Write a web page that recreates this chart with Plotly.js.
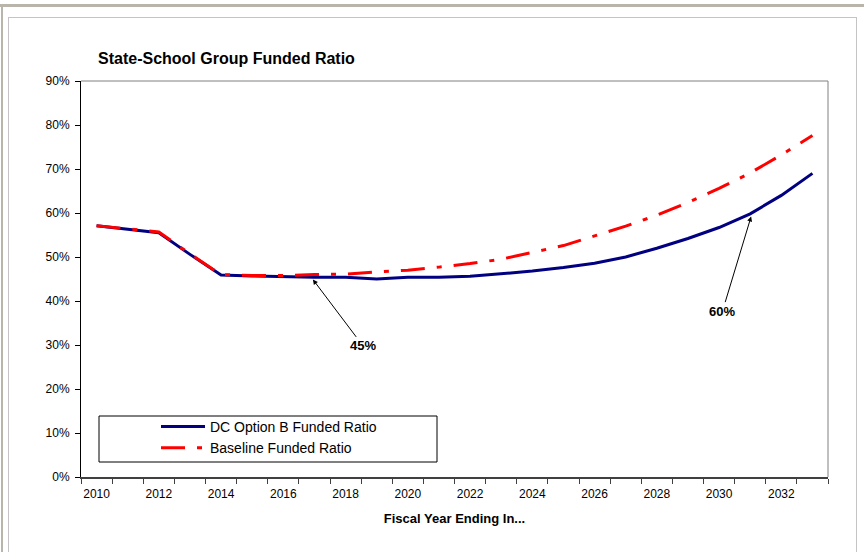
<!DOCTYPE html>
<html>
<head>
<meta charset="utf-8">
<script src="https://cdn.plot.ly/plotly-3.0.1.min.js"></script>
<style>
html, body { margin: 0; padding: 0; background: #ffffff; }
#wrap { position: relative; width: 864px; height: 552px; overflow: hidden; }
#chart { position: absolute; left: 0; top: 0; width: 864px; height: 552px; }
.f1 { position: absolute; left: 0; top: 4px; width: 864px; height: 3px; background: #b9b5aa; }
.f2 { position: absolute; left: 1px; top: 4px; width: 2px; height: 548px; background: #b9b5aa; }
.f3 { position: absolute; left: 8px; top: 17px; width: 849px; height: 540px; border: 1px solid #c4c4c4; box-sizing: border-box; }
</style>
</head>
<body>
<div id="wrap">
  <div class="f1"></div>
  <div class="f2"></div>
  <div class="f3"></div>
  <div id="chart"></div>
</div>
<script>
// ---- data ----
var years = [2010, 2011, 2012, 2013, 2014, 2015, 2016, 2017, 2018, 2019, 2020, 2021,
             2022, 2023, 2024, 2025, 2026, 2027, 2028, 2029, 2030, 2031, 2032, 2033];
var dcOptionB = [57.1, 56.3, 55.5, 50.6, 45.9, 45.7, 45.5, 45.4, 45.4, 45.0, 45.4, 45.4,
                 45.6, 46.2, 46.8, 47.6, 48.6, 50.0, 52.0, 54.2, 56.7, 59.8, 64.0, 69.0];
var baseline  = [57.1, 56.4, 55.7, 50.7, 46.0, 45.8, 45.8, 46.0, 46.1, 46.6, 47.0, 47.7,
                 48.5, 49.5, 51.0, 52.6, 54.8, 57.0, 59.5, 62.4, 65.6, 69.1, 73.2, 77.6];
var xTickVals  = [2010, 2012, 2014, 2016, 2018, 2020, 2022, 2024, 2026, 2028, 2030, 2032];
var xTickText  = ['2010', '2012', '2014', '2016', '2018', '2020', '2022', '2024', '2026', '2028', '2030', '2032'];
var seriesNames = ['DC Option B Funded Ratio', 'Baseline Funded Ratio'];
var chartTitle = 'State-School Group Funded Ratio';
var xTitle = 'Fiscal Year Ending In...';
var callouts = [
  {label: '45%', year: 2016.95, value: 44.9, textYear: 2018.56, textValue: 29.8},
  {label: '60%', year: 2031.03, value: 59.2, textYear: 2030.11, textValue: 37.7}
];

// category boundaries for the tick marks
var boundaries = years.map(function (y) { return y - 0.5; });
boundaries.push(years[years.length - 1] + 0.5);

var FONT = "Arial, 'Liberation Sans', sans-serif";

var traces = [
  {
    x: years, y: dcOptionB, name: seriesNames[0], type: 'scatter', mode: 'lines',
    line: {color: '#000080', width: 3}
  },
  {
    x: years, y: baseline, name: seriesNames[1], type: 'scatter', mode: 'lines',
    line: {color: '#ff0000', width: 3, dash: '24px,12px,5px,12px'}
  }
];

var annotations = callouts.map(function (c) {
  return {
    x: c.year, y: c.value, xref: 'x', yref: 'y',
    ax: c.textYear, ay: c.textValue, axref: 'x', ayref: 'y',
    text: '<b>' + c.label + '</b>', showarrow: true,
    arrowhead: 2, arrowsize: 1, arrowwidth: 1, arrowcolor: '#000000',
    font: {family: FONT, size: 13, color: '#000000'}
  };
});

var layout = {
  width: 864, height: 552,
  margin: {l: 81, r: 36, t: 81, b: 75, pad: 0},
  paper_bgcolor: 'rgba(0,0,0,0)',
  plot_bgcolor: '#ffffff',
  font: {family: FONT, color: '#000000'},
  showlegend: true,
  title: {
    text: '<b>' + chartTitle + '</b>',
    x: 98 / 864, xref: 'container', xanchor: 'left',
    y: 1 - 58 / 552, yref: 'container', yanchor: 'middle',
    font: {family: FONT, size: 16, color: '#000000'}
  },
  xaxis: {
    range: [2009.5, 2033.5],
    tickmode: 'array', tickvals: xTickVals, ticktext: xTickText,
    ticks: '', showgrid: false, zeroline: false, ticklabelstandoff: 5,
    showline: true, linecolor: '#404040', linewidth: 1.5,
    tickfont: {family: FONT, size: 12, color: '#000000'},
    minor: {tickmode: 'array', tickvals: boundaries, ticks: 'outside', ticklen: 5,
            tickwidth: 1, tickcolor: '#404040', showgrid: false},
    title: {text: '<b>' + xTitle + '</b>', standoff: 14,
            font: {family: FONT, size: 13, color: '#000000'}}
  },
  yaxis: {
    range: [0, 90], dtick: 10, tick0: 0, ticksuffix: '%',
    ticks: 'outside', ticklen: 5, tickwidth: 1, tickcolor: '#000000',
    showgrid: false, zeroline: false, ticklabelstandoff: 3,
    showline: true, linecolor: '#000000', linewidth: 1,
    tickfont: {family: FONT, size: 12, color: '#000000'}
  },
  legend: {
    x: (156 - 81) / 747, y: (477 - 411) / 396, xanchor: 'left', yanchor: 'top',
    bgcolor: 'rgba(0,0,0,0)', borderwidth: 0,
    font: {family: FONT, size: 14, color: '#000000'},
    itemwidth: 44, tracegroupgap: 0
  },
  shapes: [
    {type: 'line', xref: 'paper', yref: 'paper', x0: 0, x1: 1, y0: 1, y1: 1,
     line: {color: '#808080', width: 1}},
    {type: 'line', xref: 'paper', yref: 'paper', x0: 1, x1: 1, y0: 0, y1: 1,
     line: {color: '#808080', width: 1}},
    {type: 'rect', xref: 'paper', yref: 'paper',
     x0: (99 - 81) / 747, x1: (437 - 81) / 747,
     y0: (477 - 462) / 396, y1: (477 - 416) / 396,
     line: {color: '#000000', width: 1}, fillcolor: 'rgba(0,0,0,0)'}
  ],
  annotations: annotations
};

Plotly.newPlot('chart', traces, layout, {displayModeBar: false, staticPlot: true});
</script>
</body>
</html>
